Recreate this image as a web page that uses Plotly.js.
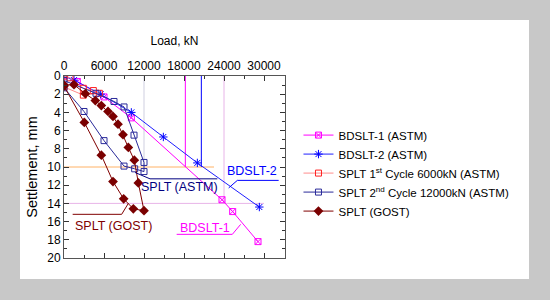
<!DOCTYPE html>
<html>
<head>
<meta charset="utf-8">
<script src="https://cdn.plot.ly/plotly-3.0.1.min.js"></script>
<style>
  html, body { margin:0; padding:0; background:#c8c8c8; width:550px; height:300px; overflow:hidden; }
  #panel { position:absolute; left:20px; top:20px; width:509px; height:259px; background:#ffffff; }
  #chart { position:absolute; left:0; top:0; width:550px; height:300px; }
</style>
</head>
<body>
<div id="panel"></div>
<div id="chart"></div>
<script>
// ---- data (load in kN, settlement in mm) ----
const bdslt1Load   = [0, 2000, 6000, 10100, 23700, 25300, 29100];
const bdslt1Settle = [0, 0.6, 2.3, 4.6, 13.6, 14.9, 18.2];

const bdslt2Load   = [0, 1500, 5500, 10100, 14900, 20000, 29300];
const bdslt2Settle = [0, 0.45, 2.0, 4.0, 6.7, 9.55, 14.4];

const splt1Load   = [0, 900, 2900, 4400, 5300, 2900, 0];
const splt1Settle = [0, 0.2, 1.35, 1.6, 1.9, 2.1, 1.2];

const splt2Load   = [0, 3000, 6000, 9000, 10600, 12000, 12000, 10500, 9000, 7500, 4800, 0];
const splt2Settle = [1.3, 3.9, 7.1, 9.9, 10.2, 10.5, 9.5, 6.5, 3.4, 2.8, 1.9, 0.5];

const gostLoad   = [0, 1500, 3200, 4700, 5600, 6600, 7350, 8100, 8850, 9650, 10550, 11150, 12000, 10400, 8950, 7350, 5600, 3050, 0];
const gostSettle = [1.0, 0.95, 1.95, 2.7, 3.25, 3.9, 4.45, 5.3, 6.45, 7.85, 9.25, 11.75, 14.8, 14.6, 13.5, 11.6, 8.7, 5.1, 1.1];

const seriesNames = ['BDSLT-1 (ASTM)', 'BDSLT-2 (ASTM)', 'SPLT 1<sup>st</sup> Cycle 6000kN (ASTM)',
                     'SPLT 2<sup>nd</sup> Cycle 12000kN (ASTM)', 'SPLT (GOST)'];
const xTickVals = [0, 6000, 12000, 18000, 24000, 30000];
const xTickText = ['0', '6000', '12000', '18000', '24000', '30000'];
const yTickVals = [0, 2, 4, 6, 8, 10, 12, 14, 16, 18, 20];

// reference lines (load x0,x1 ; settlement y0,y1)
const refX0 = [0, 0, 24000, 12000, 18200, 20600];
const refX1 = [22500, 30000, 24000, 12000, 18200, 20600];
const refY0 = [10, 14, 0, 0, 0, 0];
const refY1 = [10, 14, 14, 10, 10, 10];

// callout labels
const labelText = ['BDSLT-2', 'SPLT (ASTM)', 'SPLT (GOST)', 'BDSLT-1'];
const labelX = [28200, 17300, 7450, 21200];
const labelY = [10.45, 12.15, 16.5, 16.75];
// leader polylines for each label
const leaderX = [[24700, 26000, 32200], [10650, 12900, 23000], [1300, 8650, 9650], [16900, 25250, 26500]];
const leaderY = [[12.3, 11.47, 11.47], [10.6, 11.3, 11.3], [15.2, 15.2, 14.0], [17.4, 17.4, 16.3]];

// ---- styles ----
const refColors = ['#ffb266', '#e8b4e8', '#e8b4e8', '#cfcfe0', '#ff00ff', '#0000ff'];
const labelColors = ['#0000ff', '#000080', '#800000', '#ff00ff'];

const traces = [
  {x: bdslt1Load, y: bdslt1Settle, name: seriesNames[0], mode: 'lines+markers',
   line: {color: '#ff00ff', width: 1}, marker: {symbol: 'square-x-open', size: 6, color: '#ff00ff', line:{width:1}}},
  {x: bdslt2Load, y: bdslt2Settle, name: seriesNames[1], mode: 'lines+markers',
   line: {color: '#1f1fff', width: 1}, marker: {symbol: 'asterisk-open', size: 7, color: '#0000ff', line:{width:1, color:'#0000ff'}}},
  {x: splt1Load, y: splt1Settle, name: seriesNames[2], mode: 'lines+markers',
   line: {color: '#ff8c8c', width: 1}, marker: {symbol: 'square-open', size: 6, color: '#ff2020', line:{width:1}}},
  {x: splt2Load, y: splt2Settle, name: seriesNames[3], mode: 'lines+markers',
   line: {color: '#2a2a9a', width: 1}, marker: {symbol: 'square-open', size: 6, color: '#2a2a9a', line:{width:1}}},
  {x: gostLoad, y: gostSettle, name: seriesNames[4], mode: 'lines+markers',
   line: {color: '#800000', width: 1}, marker: {symbol: 'diamond', size: 7.5, color: '#7a0000'}}
];

const shapes = [];
for (let i = 0; i < refX0.length; i++) {
  shapes.push({type: 'line', xref: 'x', yref: 'y', x0: refX0[i], x1: refX1[i], y0: refY0[i], y1: refY1[i],
               line: {color: refColors[i], width: 1}, layer: 'below'});
}
for (let i = 0; i < leaderX.length; i++) {
  let p = 'M' + leaderX[i][0] + ',' + leaderY[i][0];
  for (let k = 1; k < leaderX[i].length; k++) p += ' L' + leaderX[i][k] + ',' + leaderY[i][k];
  shapes.push({type: 'path', xref: 'x', yref: 'y', path: p, line: {color: labelColors[i], width: 1}});
}

const annotations = labelText.map((t, i) => ({
  text: t, x: labelX[i], y: labelY[i], xref: 'x', yref: 'y', showarrow: false,
  font: {family: 'Liberation Sans, Arial, sans-serif', size: 12.5, color: labelColors[i]},
  xanchor: 'center', yanchor: 'middle'
}));

const narrow = 'Liberation Sans Narrow, Arial Narrow, Liberation Sans, Arial, sans-serif';

const layout = {
  width: 550, height: 300,
  margin: {l: 64, r: 265, t: 76, b: 42, pad: 0},
  paper_bgcolor: 'rgba(0,0,0,0)', plot_bgcolor: '#ffffff',
  font: {family: 'Liberation Sans, Arial, sans-serif', size: 12, color: '#000'},
  showlegend: true,
  legend: {x: 1.061, xanchor: 'left', y: 0.755, yanchor: 'top', bgcolor: 'rgba(0,0,0,0)',
           font: {size: 11.5, color: '#000'}, itemwidth: 30, tracegroupgap: 0},
  xaxis: {side: 'top', range: [0, 33150], tickvals: xTickVals, ticktext: xTickText,
          ticks: 'inside', ticklen: 5, tickcolor: '#333', showline: true, linecolor: '#555', linewidth: 1,
          mirror: 'allticks', showgrid: false, zeroline: false,
          minor: {tickvals: [3000, 9000, 15000, 21000, 27000, 33000], ticks: 'inside', ticklen: 3, tickcolor: '#333'},
          tickfont: {family: narrow, size: 12}, 
          title: {text: 'Load, kN', font: {family: narrow, size: 12}, standoff: 11}},
  yaxis: {range: [20, 0], tickvals: yTickVals, ticks: 'inside', ticklen: 5, tickcolor: '#333',
          showline: true, linecolor: '#555', linewidth: 1, mirror: 'allticks', showgrid: false, zeroline: false,
          minor: {dtick: 1, ticks: 'inside', ticklen: 3, tickcolor: '#333'},
          tickfont: {size: 12},
          title: {text: 'Settlement, mm', font: {size: 14.5}, standoff: 6}},
  shapes: shapes,
  annotations: annotations
};

Plotly.newPlot('chart', traces, layout, {staticPlot: true, displayModeBar: false});
</script>
</body>
</html>
